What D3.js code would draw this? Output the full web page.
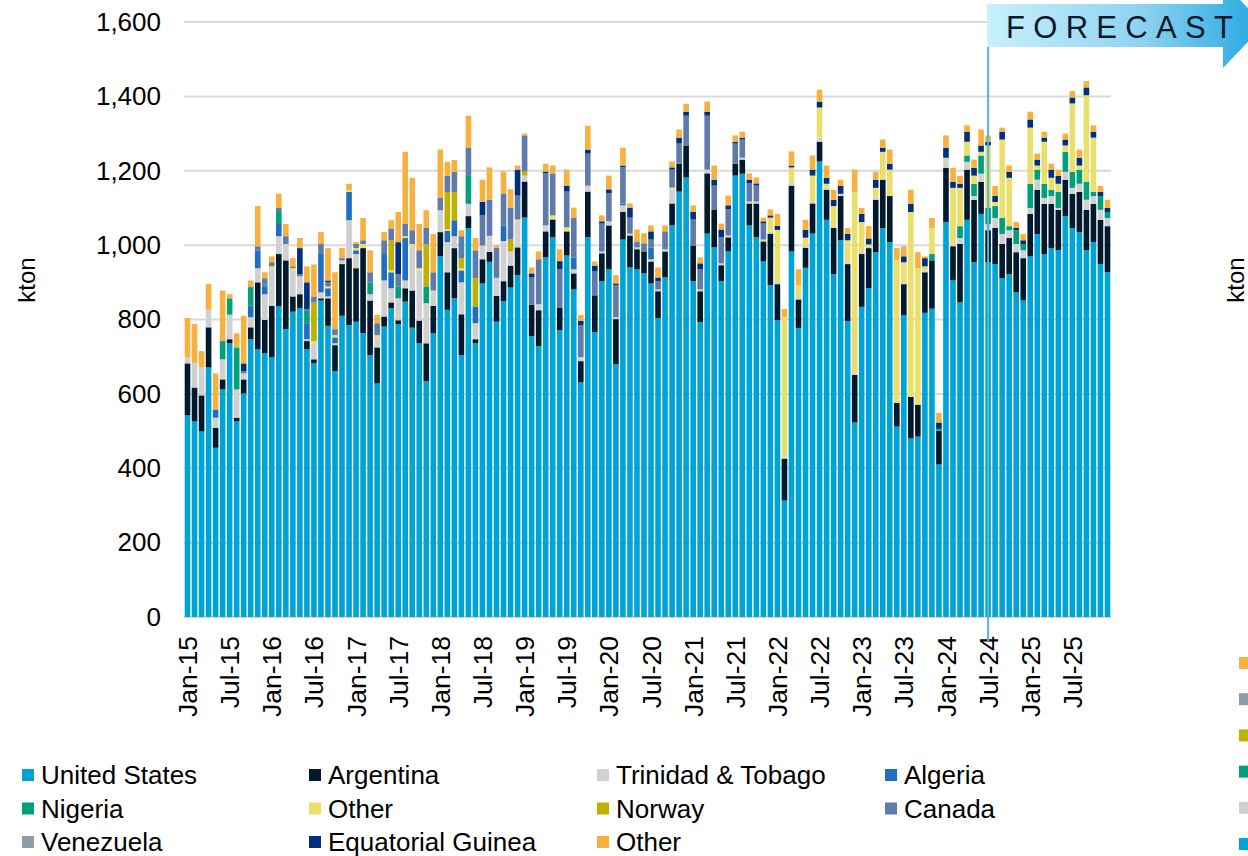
<!DOCTYPE html>
<html>
<head>
<meta charset="utf-8">
<script src="https://cdn.jsdelivr.net/npm/d3@7"></script>
<style>
  body { margin: 0; background: #fff; }
  svg text { font-family: "Liberation Sans", Arial, sans-serif; fill: #000; }
</style>
</head>
<body>
<div id="chart"></div>
<script>
// monthly imports, kton, Jan-15 .. Dec-25
let monthNames = ["Jan","Feb","Mar","Apr","May","Jun","Jul","Aug","Sep","Oct","Nov","Dec"];
let years = ["15","16","17","18","19","20","21","22","23","24","25"];
let months = [];
years.forEach(yy => monthNames.forEach(m => months.push(m + "-" + yy)));

let seriesNames = ["United States","Argentina","Trinidad & Tobago","Algeria","Nigeria","Other",
  "Norway","Canada","Venezuela","Equatorial Guinea","Other"];
let colors = ["#00a3d6","#021a2e","#d0d0d0","#1f6ec4","#00a17a","#ebdf6b",
  "#c0b000","#5e7bac","#8e9ca8","#00307b","#f8b03e"];

let unitedStates = [542,526,499,671,455,612,736,526,601,747,720,709,
  698,835,774,821,831,720,682,851,783,661,810,785,
  794,763,704,628,781,830,788,848,778,736,634,763,
  970,826,857,704,1046,736,897,955,794,849,886,919,
  1074,755,728,967,1021,771,972,881,631,1021,766,903,
  935,680,1015,940,935,924,897,804,913,1053,1144,1182,
  903,793,1031,994,903,983,1187,1192,1053,1021,956,892,
  798,313,983,777,939,1031,1225,1068,922,1013,796,523,
  834,884,981,1046,1008,512,812,480,485,818,829,410,
  1062,905,846,1068,954,1084,954,949,911,922,873,851,
  970,1030,976,992,986,1078,1046,1035,986,1008,949,927];
let argentina = [140,91,97,108,54,27,11,10,38,32,180,90,
  139,141,185,41,37,22,11,6,74,70,139,180,
  144,229,147,97,27,16,10,36,100,61,102,74,
  65,101,135,110,32,11,65,27,70,54,59,75,
  97,85,97,70,48,60,65,43,57,123,99,75,
  118,121,75,86,54,59,59,72,70,59,75,86,
  96,83,162,102,43,38,32,38,59,91,54,139,
  97,113,177,77,54,81,53,81,124,119,153,128,
  142,108,141,130,124,64,83,112,86,109,130,91,
  146,92,157,135,168,86,86,97,92,97,108,114,
  114,119,135,119,109,98,92,108,109,103,119,124];
let trinidad = [16,65,75,47,27,54,66,76,16,27,38,69,
  101,48,44,70,48,5,43,16,5,5,10,102,
  38,0,17,27,97,38,59,21,119,135,108,41,
  59,81,32,86,33,43,37,43,48,108,38,70,
  16,0,16,16,0,0,0,11,11,16,0,5,
  11,5,17,5,5,0,6,5,6,38,0,0,
  0,5,10,0,5,5,0,5,0,5,0,6,
  6,5,6,6,6,5,11,5,5,6,5,6,
  5,5,5,0,0,0,5,0,0,5,0,0,
  27,5,16,21,10,22,17,27,27,21,22,21,
  16,27,16,21,5,21,16,22,27,21,27,22];
let algeria = [0,0,0,0,22,0,0,0,0,31,48,21,
  0,33,0,0,0,43,0,103,22,16,0,76,
  10,0,0,0,71,43,0,114,0,0,0,0,
  0,30,43,32,0,45,0,0,0,42,0,0,
  0,0,0,0,0,0,0,32,0,0,0,0,
  0,0,5,0,0,0,32,0,0,0,0,0,
  0,0,0,0,0,0,0,0,0,0,0,0,
  0,0,0,0,0,0,0,0,0,0,0,0,
  0,0,0,0,0,0,0,0,0,0,0,0,
  0,0,0,0,0,0,0,0,0,0,0,0,
  0,0,0,0,0,0,0,0,0,0,0,0];
let nigeria = [0,0,0,0,0,49,44,113,0,48,0,5,
  0,32,0,0,0,33,0,0,0,0,0,0,
  0,0,32,0,0,0,32,0,0,0,45,0,
  0,0,0,0,75,0,0,0,0,0,0,0,
  0,0,0,0,0,0,0,0,0,0,0,0,
  0,0,0,0,0,0,0,0,0,0,0,0,
  0,0,0,0,0,0,0,0,0,0,0,0,
  0,0,0,0,0,0,0,0,0,0,0,0,
  0,0,0,0,0,0,0,0,0,0,17,5,
  0,0,32,17,33,49,43,32,43,11,37,17,
  65,27,38,17,43,54,43,38,48,11,37,16];
let otherA = [0,0,0,0,0,0,0,0,0,0,0,0,
  5,0,0,6,0,0,6,0,5,6,0,5,
  6,11,0,6,0,5,0,5,6,6,0,0,
  0,5,0,6,0,0,0,0,0,0,0,5,
  0,0,0,0,11,0,11,0,0,0,0,0,
  0,0,0,0,0,0,0,0,0,5,0,0,
  0,0,0,0,0,0,0,0,5,0,5,37,
  140,375,43,32,21,70,81,11,54,0,59,486,
  81,5,27,75,71,383,54,497,367,11,70,0,
  0,152,103,37,22,10,168,11,211,130,0,0,
  151,11,113,32,22,17,184,11,233,146,0,0];
let norway = [0,0,0,0,0,0,0,0,0,0,0,0,
  0,0,0,0,0,0,104,0,0,0,0,0,
  0,0,0,0,0,81,0,0,0,0,114,0,
  0,100,76,27,0,76,0,0,0,0,32,0,
  11,0,0,0,0,0,0,0,0,0,0,0,
  0,0,0,0,0,0,0,0,0,0,0,0,
  0,0,0,0,0,0,0,0,0,0,0,0,
  0,0,0,0,0,0,0,0,0,0,0,0,
  0,0,0,0,0,0,0,0,0,0,0,0,
  0,0,0,0,0,0,0,0,0,0,0,0,
  0,0,0,0,0,0,0,0,0,0,0,0];
let canada = [0,0,0,0,0,0,0,0,6,4,11,17,
  11,11,21,5,6,5,16,27,11,16,6,0,
  11,10,27,32,37,32,33,33,37,48,43,49,
  33,43,54,59,76,75,81,97,81,86,86,64,
  97,73,121,140,113,104,96,107,86,86,64,75,
  75,86,97,43,16,22,21,22,48,48,54,80,
  70,54,145,64,70,70,54,49,49,43,43,0,
  0,0,0,0,0,0,0,0,0,0,0,0,
  0,0,0,0,0,0,0,0,0,0,0,0,
  0,0,0,0,0,0,0,0,0,0,0,0,
  0,0,0,0,0,0,0,0,0,0,0,0];
let venezuela = [0,0,0,0,0,0,0,0,0,0,0,0,
  0,0,0,0,0,0,0,0,0,0,0,0,
  0,0,0,0,0,0,0,0,0,0,0,0,
  0,0,0,0,0,0,0,0,0,0,0,0,
  0,0,0,0,0,0,0,0,0,0,0,0,
  0,0,0,0,0,0,0,0,0,0,0,0,
  0,0,0,0,0,0,0,0,0,0,0,0,
  0,0,0,0,0,0,0,0,0,0,0,0,
  0,0,0,0,0,0,0,0,0,0,0,0,
  0,0,0,0,0,0,0,0,0,0,0,0,
  0,0,0,0,0,0,0,0,0,0,0,0];
let eqGuinea = [0,0,0,0,0,0,0,0,21,0,0,0,
  0,0,0,0,70,72,0,0,5,0,0,0,
  0,0,0,0,0,0,86,0,0,0,0,0,
  0,0,0,0,0,0,37,0,0,0,0,70,
  0,11,0,5,0,22,16,0,11,11,16,6,
  11,5,5,27,0,0,22,10,0,6,16,11,
  21,16,11,16,21,11,5,5,10,6,6,6,
  11,0,5,0,21,16,16,16,17,21,17,0,
  22,16,22,11,16,0,16,22,0,22,0,17,
  27,16,11,27,21,17,10,16,21,16,6,10,
  22,16,11,22,21,16,16,21,21,16,11,11];
let otherB = [106,106,44,70,97,136,11,38,128,16,108,16,
  16,38,33,22,27,43,86,32,87,153,27,17,
  5,60,59,22,22,22,81,194,141,71,48,103,
  130,38,32,16,86,33,59,87,6,59,49,11,
  5,16,21,21,21,32,43,27,16,64,11,16,
  37,22,48,11,32,27,16,27,16,16,22,21,
  17,16,27,38,16,26,17,16,17,16,10,16,
  32,22,38,43,27,38,32,33,27,17,16,60,
  16,33,21,22,38,33,27,38,43,5,27,26,
  33,38,21,17,22,43,17,27,11,17,16,17,
  21,16,16,16,17,16,17,22,17,17,16,22];

let yTicks = [0,200,400,600,800,1000,1200,1400,1600];
let forecastStart = "Jul-24";
// legend of the neighbouring chart, cut off at the right edge
let sideLegend = ["#f8b03e","#8e9ca8","#c0b000","#00a17a","#d0d0d0","#00a3d6"];

let seriesData = [unitedStates, argentina, trinidad, algeria, nigeria, otherA,
  norway, canada, venezuela, eqGuinea, otherB];

let width = 1248, height = 856;
let keys = d3.range(seriesData.length);
let table = months.map((m, i) => {
  let row = { month: m };
  keys.forEach(k => row[k] = seriesData[k][i]);
  return row;
});

let svg = d3.select("#chart").append("svg")
  .attr("width", width)
  .attr("height", height);

let x = d3.scaleBand()
  .domain(months)
  .range([184, 1111])
  .paddingInner(0.2)
  .paddingOuter(0.1);

let y = d3.scaleLinear()
  .domain([0, 1600])
  .range([617, 22]);

// gridlines
svg.append("g")
  .selectAll("line")
  .data(yTicks)
  .enter().append("line")
  .attr("x1", 184)
  .attr("x2", 1111)
  .attr("y1", d => y(d))
  .attr("y2", d => y(d))
  .attr("stroke", "#d9d9d9")
  .attr("stroke-width", 2);

let yAxis = svg.append("g")
  .attr("transform", "translate(161,0)")
  .call(d3.axisLeft(y).tickValues(yTicks).tickSize(0).tickPadding(0).tickFormat(d3.format(",")));
yAxis.select(".domain").remove();
yAxis.selectAll("text")
  .style("font-size", "26px")
  .style("font-family", "'Liberation Sans', Arial, sans-serif")
  .attr("fill", "#000");

let stack = d3.stack().keys(keys);
let layers = stack(table);

svg.append("g")
  .selectAll("g")
  .data(layers)
  .enter().append("g")
  .attr("fill", d => colors[d.key])
  .selectAll("rect")
  .data(d => d)
  .enter().append("rect")
  .attr("x", d => x(d.data.month))
  .attr("width", x.bandwidth())
  .attr("y", d => y(d[1]))
  .attr("height", d => Math.max(0, y(d[0]) - y(d[1])));

// x labels every 6 months
let xAxis = svg.append("g")
  .attr("transform", "translate(0,636)")
  .call(d3.axisBottom(x)
    .tickValues(months.filter((m, i) => i % 6 === 0))
    .tickSize(0).tickPadding(0));
xAxis.select(".domain").remove();
xAxis.selectAll("text")
  .style("font-size", "26.5px")
  .style("font-family", "'Liberation Sans', Arial, sans-serif")
  .attr("fill", "#000")
  .attr("text-anchor", "end")
  .attr("transform", "rotate(-90)")
  .attr("x", 0)
  .attr("y", 0)
  .attr("dy", "0.36em");

// axis titles
svg.append("text")
  .attr("transform", "translate(35,280) rotate(-90)")
  .attr("text-anchor", "middle")
  .style("font-size", "24px")
  .text("kton");
svg.append("text")
  .attr("transform", "translate(1244,280) rotate(-90)")
  .attr("text-anchor", "middle")
  .style("font-size", "24px")
  .text("kton");

// forecast marker
let fx = x(forecastStart) + x.bandwidth() / 2;
svg.append("line")
  .attr("x1", fx).attr("x2", fx)
  .attr("y1", 47).attr("y2", 641)
  .attr("stroke", "#4db8e3")
  .attr("stroke-width", 2);

let grad = svg.append("defs").append("linearGradient")
  .attr("id", "fcGrad")
  .attr("x1", "0%").attr("x2", "100%");
grad.append("stop").attr("offset", "0%").attr("stop-color", "#c8f0fc");
grad.append("stop").attr("offset", "55%").attr("stop-color", "#8fd3f1");
grad.append("stop").attr("offset", "100%").attr("stop-color", "#22a6e0");

svg.append("path")
  .attr("d", "M" + (fx - 1) + ",4 L1223,4 L1223,-18 L1264,25 L1223,68 L1223,47 L" + (fx - 1) + ",47 Z")
  .attr("fill", "url(#fcGrad)");

svg.append("text")
  .attr("x", 1006)
  .attr("y", 38)
  .style("font-size", "31px")
  .style("letter-spacing", "8.3px")
  .style("fill", "#0b1a2b")
  .text("FORECAST");

// legend
let legend = svg.append("g")
  .selectAll("g")
  .data(seriesNames)
  .enter().append("g")
  .attr("transform", (d, i) => "translate(" + [22, 309, 597, 885][i % 4] + "," + (775 + Math.floor(i / 4) * 33.5) + ")");

legend.append("rect")
  .attr("x", 0)
  .attr("y", -6)
  .attr("width", 12)
  .attr("height", 12)
  .attr("fill", (d, i) => colors[i]);

legend.append("text")
  .attr("x", 19)
  .attr("dy", "0.36em")
  .style("font-size", "26px")
  .text(d => d);

svg.append("g")
  .selectAll("rect")
  .data(sideLegend)
  .enter().append("rect")
  .attr("x", 1239)
  .attr("y", (d, i) => 657 + i * 36.2)
  .attr("width", 12)
  .attr("height", 12)
  .attr("fill", d => d);
</script>
</body>
</html>
